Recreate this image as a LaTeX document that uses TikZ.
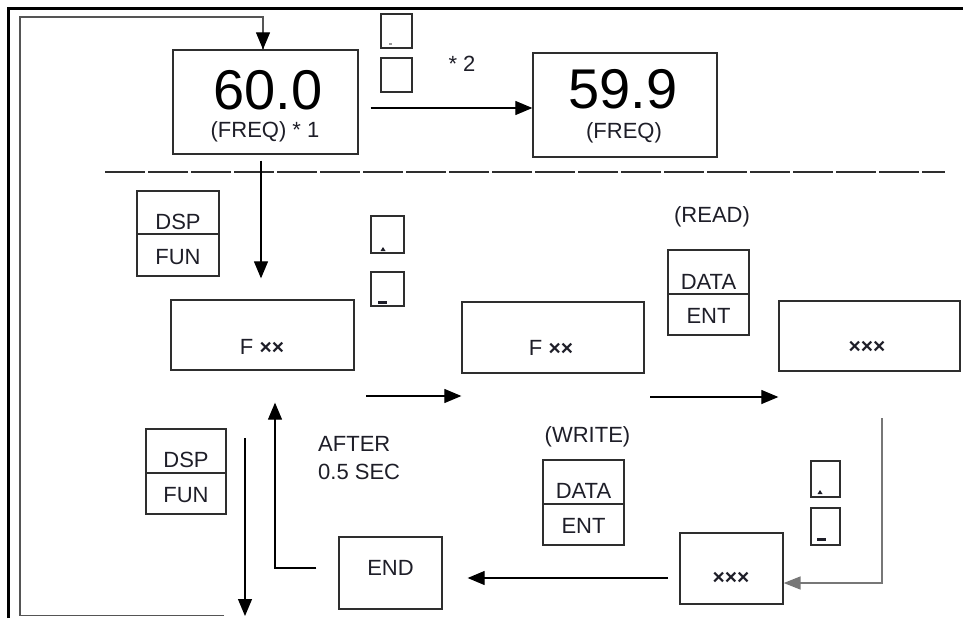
\documentclass[tikz,border=0pt]{standalone}
\usepackage{fontspec}
\setmainfont{Liberation Sans}
\usetikzlibrary{arrows.meta,calc}
\definecolor{ink}{HTML}{1E1E28}
\definecolor{edge}{HTML}{2E2E2E}
\definecolor{loopc}{HTML}{555555}
\newcommand{\xsym}{{\fontsize{21}{21}\selectfont\bfseries ×}}
\begin{document}
\begin{tikzpicture}[x=1pt,y=-1pt,
  box/.style 2 args={draw=edge, line width=1.3pt, inner sep=0pt, minimum width=#1, minimum height=#2, rectangle},
  txt/.style={anchor=base, inner sep=0pt, text=ink, font=\fontsize{22}{22}\selectfont},
  digits/.style={anchor=base, inner sep=0pt, text=black, font=\fontsize{56}{56}\selectfont},
  arr/.style={draw=black, line width=1.2pt, -{Triangle[length=17pt,width=14pt]}},
  garr/.style={draw=loopc!80, line width=1.6pt, -{Triangle[length=17pt,width=13pt]}},
  loopline/.style={draw=loopc, line width=1.6pt},
  divider/.style={draw=edge, line width=1.3pt},
  keymark/.style={fill=ink, draw=none}
]
\useasboundingbox (0,0) rectangle (963,618);

% outer frame
\draw[line width=3pt, black] (8.5,618) -- (8.5,8.5) -- (963,8.5);

% boxes
\node[box={185pt}{104pt}] (freq1) at (265.5,102) {};
\node[box={184pt}{104pt}] (freq2) at (625,105) {};
\node[box={31pt}{34pt}] (ks1) at (396.5,31) {};
\node[box={31pt}{34pt}] (ks2) at (396.5,75) {};
\node[box={82pt}{85pt}] (dsp1) at (178,233.5) {};
\node[box={33pt}{37pt}] (km1) at (387.5,234.5) {};
\node[box={33pt}{34pt}] (km2) at (387.5,289) {};
\node[box={183pt}{70pt}] (f1) at (262.5,335) {};
\node[box={182pt}{71pt}] (f2) at (553,337.5) {};
\node[box={81pt}{85pt}] (data1) at (708.5,292.5) {};
\node[box={181pt}{70pt}] (x1) at (869.5,336) {};
\node[box={80pt}{85pt}] (dsp2) at (186,471.5) {};
\node[box={81pt}{85pt}] (data2) at (583.5,502.5) {};
\node[box={29pt}{36pt}] (kr1) at (825.5,479) {};
\node[box={29pt}{37pt}] (kr2) at (825.5,526.5) {};
\node[box={103pt}{71pt}] (x2) at (731.5,568.5) {};
\node[box={103pt}{72pt}] (endb) at (390.5,573) {};

% dividers of the two-key boxes
\draw[divider] (dsp1.west |- 0,234) -- (dsp1.east |- 0,234);
\draw[divider] (data1.west |- 0,294) -- (data1.east |- 0,294);
\draw[divider] (dsp2.west |- 0,473) -- (dsp2.east |- 0,473);
\draw[divider] (data2.west |- 0,504) -- (data2.east |- 0,504);

% key marks
\fill[keymark] (380.5,251) -- (385.5,251) -- (383,247) -- cycle;
\fill[keymark] (378,301) rectangle (387,303.5);
\fill[keymark] (817.5,494) -- (822.5,494) -- (820,490) -- cycle;
\fill[keymark] (817,537.5) rectangle (826,540.5);
\fill[loopc!60] (389,43.5) rectangle (392,45);

% texts
\node[digits] (t600) at (268,109) {60.0};
\node[txt] (tfq1) at (265,137) {(FREQ) * 1};
\node[digits] (t599) at (623,108) {59.9};
\node[txt] (tfq2) at (624,138) {(FREQ)};
\node[txt] (tst2) at (462,71) {* 2};
\node[txt] (tdsp1) at (178,229) {DSP};
\node[txt] (tfun1) at (178,264) {FUN};
\node[txt] (tf1) at (262,354) {F \xsym\xsym};
\node[txt] (tf2) at (551,355) {F \xsym\xsym};
\node[txt] (tx1) at (867,353) {\xsym\xsym\xsym};
\node[txt] (tread) at (712,222) {(READ)};
\node[txt] (tdata1) at (708.5,289) {DATA};
\node[txt] (tent1) at (708.5,323) {ENT};
\node[txt, anchor=base west] (tafter) at (318,451) {AFTER};
\node[txt, anchor=base west] (tsec) at (318,479) {0.5 SEC};
\node[txt] (tdsp2) at (186,467.5) {DSP};
\node[txt] (tfun2) at (186,502.5) {FUN};
\node[txt] (tend) at (390.5,575) {END};
\node[txt] (twrite) at (587.5,442.5) {(WRITE)};
\node[txt] (tdata2) at (583.5,498) {DATA};
\node[txt] (tent2) at (583.5,533) {ENT};
\node[txt] (tx2) at (731,584) {\xsym\xsym\xsym};

% dashed separator
\coordinate (d1) at (105,172);
\coordinate (d2) at (945,172);
\draw[draw=edge, line width=1.2pt, dash pattern=on 40pt off 3pt] (d1) -- (d2);

% connectors
\coordinate (loopend) at (224,615.5);
\coordinate (loopcorner) at (20,615.5);
\draw[loopline] (loopend) -- (loopcorner) -- (20,17) -| ([xshift=-2.5pt]freq1.north);
\draw[arr] ([xshift=-2.5pt]freq1.north |- 0,40) -- ([xshift=-2.5pt]freq1.north);

\draw[arr] ([xshift=12pt,yshift=-6pt]freq1.east) -- ([yshift=-3pt]freq2.west);
\draw[arr] ([xshift=-4.5pt,yshift=-6pt]freq1.south) -- ([xshift=-1.5pt,yshift=21pt]f1.north);

\coordinate (a4s) at (366,396);
\draw[arr] (a4s) -- (a4s -| f2.west);
\coordinate (a5s) at (650,397);
\draw[arr] (a5s) -- (a5s -| x1.west);

\coordinate (a6s) at (882,418);
\draw[garr] (a6s) |- ([yshift=-14.5pt]x2.east);

\coordinate (a7s) at (668,578);
\draw[arr, shorten >=25pt] (a7s) -- (a7s -| endb.east);

\draw[arr] ([xshift=-22pt,yshift=5pt]endb.west) -| ([xshift=12.5pt,yshift=-32pt]f1.south);

\coordinate (a9s) at (245,438);
\coordinate (a9e) at (245,616);
\draw[arr] (a9s) -- (a9e);
\end{tikzpicture}
\end{document}
